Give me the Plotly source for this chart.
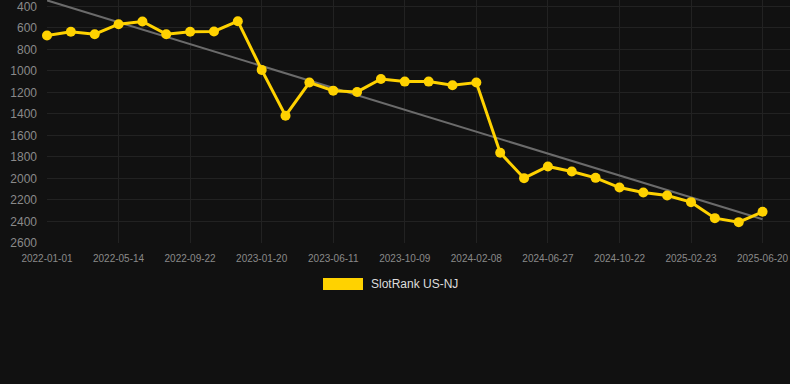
import numpy as np
import plotly.graph_objects as go

# SlotRank US-NJ ranks (lower is better; axis reversed)
rank_values = [670, 636, 658, 565, 540, 658, 636, 633, 537, 990,
               1416, 1108, 1183, 1195, 1074, 1099, 1099, 1133, 1108, 1761,
               1997, 1888, 1935, 1994, 2084, 2130, 2158, 2220, 2369, 2406,
               2310]
tick_labels = ["2022-01-01", "2022-05-14", "2022-09-22", "2023-01-20",
               "2023-06-11", "2023-10-09", "2024-02-08", "2024-06-27",
               "2024-10-22", "2025-02-23", "2025-06-20"]
y_ticks = [400, 600, 800, 1000, 1200, 1400, 1600, 1800, 2000, 2200, 2400, 2600]
series_name = "SlotRank US-NJ"

idx = np.arange(len(rank_values))
slope, intercept = np.polyfit(idx, rank_values, 1)
trend = slope * idx + intercept

YELLOW = "#FFD200"
BG = "#111111"
GRID = "#222222"
TICK = "#8a8a8a"

fig = go.Figure()
fig.add_trace(go.Scatter(
    x=[int(idx[0]), int(idx[-1])], y=[trend[0], trend[-1]], mode="lines",
    line=dict(color="#6b6b6b", width=2), showlegend=False, hoverinfo="skip"))
fig.add_trace(go.Scatter(
    x=idx.tolist(), y=rank_values, mode="lines+markers", name=series_name,
    line=dict(color=YELLOW, width=3), cliponaxis=False,
    marker=dict(color=YELLOW, size=10), showlegend=False))

fig.update_layout(
    width=790, height=384,
    paper_bgcolor=BG, plot_bgcolor=BG,
    margin=dict(l=47, r=0, t=0, b=141),
    font=dict(family="Liberation Sans, Arial, sans-serif", color=TICK),
    showlegend=False,
    xaxis=dict(
        range=[0, 31.15], tickmode="array",
        tickvals=idx[::3].tolist(), ticktext=tick_labels,
        showgrid=True, gridcolor=GRID, gridwidth=1,
        zeroline=False, showline=False, ticks="",
        tickfont=dict(size=10, color=TICK), ticklabelstandoff=8,
        ticklabeloverflow="allow"),
    yaxis=dict(
        range=[2600, 340], tickmode="array", tickvals=y_ticks,
        showgrid=True, gridcolor=GRID, gridwidth=1,
        zeroline=False, showline=False, ticks="",
        tickfont=dict(size=12, color=TICK), ticklabelstandoff=9,
        ticklabeloverflow="allow"),
    shapes=[dict(type="rect", xref="paper", yref="paper",
                 x0=(323 - 47) / 743, x1=(363 - 47) / 743,
                 y0=(384 - 141 - 290) / 243, y1=(384 - 141 - 278) / 243,
                 fillcolor=YELLOW, line=dict(width=0))],
    annotations=[dict(text=series_name, xref="paper", yref="paper",
                      x=(369 - 47) / 743, y=(384 - 141 - 284) / 243,
                      xanchor="left", yanchor="middle", showarrow=False,
                      font=dict(size=12, color="#dddddd"))],
)

fig.write_html("out.html", config={"displayModeBar": False},
               post_script="document.body.style.margin='0';"
                           "document.body.style.background='#111111';")
